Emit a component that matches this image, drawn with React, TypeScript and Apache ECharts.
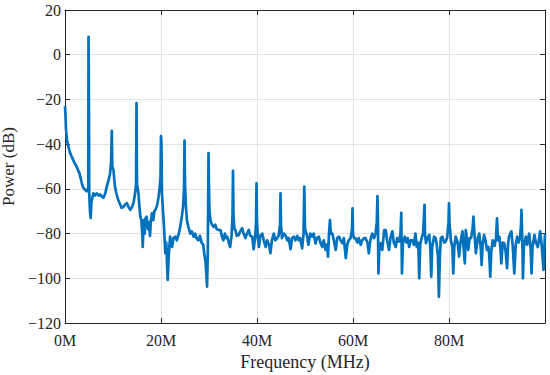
import React, { useEffect, useRef } from "react";
import * as echarts from "echarts";

const freqMHz: number[] = [
  0.0, 0.1, 0.2, 0.4, 0.7, 1.0, 1.4, 1.9, 2.4, 2.7, 3.0, 3.3, 3.5, 3.8, 4.2, 4.5, 4.75, 4.85, 4.9, 4.95,
  5.05, 5.2, 5.35, 5.5, 5.9, 6.2, 6.6, 7.0, 7.3, 7.7, 8.0, 8.4, 8.7, 9.1, 9.4, 9.6, 9.75, 9.85, 10.1, 10.4,
  10.7, 11.1, 11.5, 11.8, 12.2, 12.5, 12.9, 13.2, 13.6, 14.0, 14.3, 14.6, 14.8, 14.9, 15.0, 15.3, 15.5, 15.7, 15.9, 16.1,
  16.2, 16.4, 16.6, 16.8, 17.0, 17.3, 17.5, 17.7, 17.9, 18.1, 18.4, 18.6, 18.8, 19.1, 19.3, 19.5, 19.7, 19.9, 20.0, 20.1,
  20.2, 20.4, 20.6, 20.9, 21.1, 21.3, 21.4, 21.6, 21.9, 22.1, 22.3, 22.6, 23.0, 23.3, 23.7, 24.0, 24.3, 24.6, 24.8, 24.9,
  25.0, 25.2, 25.4, 25.7, 26.1, 26.4, 26.8, 27.1, 27.4, 27.8, 28.1, 28.5, 28.8, 29.0, 29.3, 29.6, 29.75, 29.85, 29.9, 30.0,
  30.1, 30.3, 30.6, 31.0, 31.3, 31.6, 32.0, 32.4, 32.7, 33.0, 33.3, 33.6, 33.8, 34.1, 34.4, 34.7, 34.9, 35.0, 35.1, 35.3,
  35.5, 35.8, 36.2, 36.5, 36.9, 37.2, 37.6, 37.9, 38.3, 38.6, 39.0, 39.3, 39.6, 39.8, 39.9, 40.0, 40.2, 40.4, 40.7, 41.1,
  41.4, 41.8, 42.1, 42.5, 42.8, 43.1, 43.5, 43.8, 44.2, 44.5, 44.8, 44.9, 45.0, 45.2, 45.6, 46.0, 46.3, 46.6, 47.0, 47.3,
  47.7, 48.0, 48.4, 48.7, 49.0, 49.4, 49.7, 49.85, 50.0, 50.3, 50.5, 50.7, 51.1, 51.5, 51.8, 52.2, 52.5, 52.9, 53.2, 53.6,
  53.9, 54.3, 54.6, 54.8, 55.0, 55.2, 55.4, 55.7, 56.0, 56.4, 56.7, 57.1, 57.4, 57.8, 58.1, 58.5, 58.8, 59.1, 59.5, 59.8,
  59.9, 60.0, 60.2, 60.5, 60.9, 61.2, 61.6, 61.9, 62.3, 62.6, 63.0, 63.3, 63.6, 64.0, 64.4, 64.7, 64.95, 65.1, 65.2, 65.3,
  65.5, 65.8, 66.1, 66.5, 66.8, 67.1, 67.5, 67.8, 68.2, 68.5, 68.9, 69.2, 69.6, 69.9, 70.05, 70.2, 70.4, 70.8, 71.1, 71.4,
  71.7, 72.0, 72.4, 72.7, 73.0, 73.3, 73.6, 73.8, 74.0, 74.3, 74.6, 74.9, 75.0, 75.2, 75.5, 75.9, 76.1, 76.3, 76.5, 76.9,
  77.2, 77.4, 77.7, 77.9, 78.1, 78.3, 78.6, 79.0, 79.3, 79.6, 79.9, 80.0, 80.1, 80.4, 80.7, 80.9, 81.1, 81.4, 81.8, 82.1,
  82.4, 82.8, 83.0, 83.3, 83.5, 83.8, 84.0, 84.3, 84.6, 84.9, 85.1, 85.3, 85.6, 86.0, 86.3, 86.6, 86.8, 87.0, 87.3, 87.6,
  87.9, 88.2, 88.4, 88.6, 88.8, 89.1, 89.5, 89.8, 90.0, 90.2, 90.5, 90.7, 90.9, 91.2, 91.5, 91.8, 92.1, 92.3, 92.5, 93.0,
  93.3, 93.6, 93.9, 94.2, 94.5, 94.8, 95.0, 95.1, 95.3, 95.4, 95.6, 96.0, 96.3, 96.7, 97.0, 97.2, 97.4, 97.8, 98.1, 98.5,
  98.8, 99.0, 99.3, 99.7, 99.9, 100.0,
];

const powerDb: number[] = [
  -23, -27, -33, -38, -41, -43.5, -45.6, -48, -50, -51.5, -53, -55.5, -57.4, -59.5, -60.5, -61, -60, -61, 8, -5,
  -62, -70, -73, -66, -62, -63, -62, -63, -62.5, -63.5, -64, -62, -59, -56, -53, -48, -34, -50, -51.6, -59,
  -62, -65, -67, -68.5, -68, -67, -66.4, -68, -69.4, -68, -66, -62, -58, -21.6, -58, -62, -68, -72.4, -74, -80,
  -86, -74, -80, -73, -72.5, -78, -75, -81, -74, -71, -74, -70, -69.5, -68, -66, -63.5, -60, -55, -36.4, -40,
  -62, -69.4, -76, -88.8, -84, -96, -100.7, -90, -81.4, -84, -86, -82, -81.4, -83, -80, -77, -73, -68, -60, -38.4,
  -58, -68, -74, -77, -80, -79, -81.4, -80, -82, -83, -81, -84.3, -85, -88.8, -93, -103.7, -88, -60, -44, -60,
  -70, -74, -76, -77, -76, -78, -78.4, -78.4, -81.4, -83, -80, -82, -81.4, -84, -86, -81, -72, -51.9, -72, -78,
  -78.4, -81, -80.6, -79, -77.6, -80, -82, -80, -78.4, -81, -81.4, -87, -82, -75, -57.5, -75, -82, -86, -81, -80,
  -83, -86, -83, -85, -88.8, -83, -80, -83, -82, -81, -76, -62, -76, -82, -80, -81, -83, -82, -87, -82,
  -81.4, -83, -81, -83, -82, -86.6, -80, -59, -78, -80, -82, -85, -80, -81.4, -80, -84.4, -82, -81.4, -84, -86,
  -83, -87.3, -85, -90.3, -80, -74, -80, -80, -83, -87.3, -82, -81.4, -83, -84.3, -82, -91, -85, -83, -82, -78,
  -68.7, -80, -82, -82, -84, -82, -85, -83, -82, -82, -84, -88.8, -83, -80, -82, -80, -75, -63.2, -75, -97.8,
  -86, -84.3, -87.3, -78.4, -78.4, -83, -87.3, -82, -79, -84, -86, -82, -83.6, -80, -70.7, -97.8, -84, -81.4, -84, -82,
  -86, -83, -83, -85, -80, -86, -84, -100, -85, -82, -80, -67.2, -80, -84.3, -82, -80.6, -86, -99.3, -86, -81.4,
  -82, -84.3, -90, -108.2, -90, -82, -81.4, -84, -83.6, -82, -75, -66.5, -75, -83, -86, -97.8, -86, -81.4, -84, -90.3,
  -84, -79, -85, -93.3, -78.4, -84, -87.3, -82, -82, -78, -72.4, -80, -88.8, -82, -80, -86, -94, -85, -80.6, -83,
  -87.3, -86, -90, -99.3, -88, -83, -85.5, -82, -73.2, -83, -81.4, -86, -93.3, -84, -84.3, -88, -95.5, -85, -81.4, -79,
  -86, -97.8, -85, -81.4, -84, -82, -76, -69.4, -85, -100, -86, -81.4, -85, -80, -86, -97.8, -86, -80.6, -84, -86,
  -82, -79, -85, -96.2, -85, -80,
];

const xTicks: number[] = [0, 20, 40, 60, 80];
const yTicks: number[] = [-120, -100, -80, -60, -40, -20, 0, 20];

const FONT = "'Liberation Serif', 'Times New Roman', serif";
const AX = "#262626";

export default function App() {
  const ref = useRef<HTMLDivElement>(null);
  useEffect(() => {
    if (!ref.current) return;
    const chart = echarts.init(ref.current, undefined, { renderer: "svg" });
    const data = freqMHz.map((f, i) => [f, powerDb[i]]);
    const common = {
      axisLine: { show: true, onZero: false, lineStyle: { color: AX, width: 1 } },
      axisTick: { show: true, inside: true, length: 5, lineStyle: { color: AX } },
    };
    chart.setOption({
      animation: false,
      backgroundColor: "#ffffff",
      grid: {
        left: 65,
        right: 5,
        top: 10,
        bottom: 52,
        containLabel: false,
        outerBoundsMode: "none",
      },
      xAxis: [
        {
          type: "value",
          min: 0,
          max: 100,
          interval: 20,
          position: "bottom",
          ...common,
          axisLabel: {
            color: AX,
            fontFamily: FONT,
            fontSize: 16,
            margin: 9,
            formatter: (v: number) => (xTicks.includes(v) ? `${v}M` : ""),
          },
          splitLine: { show: true, lineStyle: { color: "#e3e3e3", width: 1 } },
          name: "Frequency (MHz)",
          nameLocation: "middle",
          nameGap: 29,
          nameTextStyle: { color: AX, fontFamily: FONT, fontSize: 18 },
        },
        {
          type: "value",
          min: 0,
          max: 100,
          interval: 20,
          position: "top",
          ...common,
          axisLabel: { show: false },
          splitLine: { show: false },
        },
      ],
      yAxis: [
        {
          type: "value",
          min: -120,
          max: 20,
          interval: 20,
          position: "left",
          ...common,
          axisLabel: {
            color: AX,
            fontFamily: FONT,
            fontSize: 16,
            margin: 4,
            formatter: (v: number) => (yTicks.includes(v) ? (v < 0 ? `\u2212${-v}` : `${v}`) : ""),
          },
          splitLine: { show: true, lineStyle: { color: "#e3e3e3", width: 1 } },
          name: "Power (dB)",
          nameLocation: "middle",
          nameGap: 45,
          nameTextStyle: { color: AX, fontFamily: FONT, fontSize: 17 },
        },
        {
          type: "value",
          min: -120,
          max: 20,
          interval: 20,
          position: "right",
          ...common,
          axisLabel: { show: false },
          splitLine: { show: false },
        },
      ],
      series: [
        {
          type: "line",
          data,
          xAxisIndex: 0,
          yAxisIndex: 0,
          showSymbol: false,
          symbol: "none",
          clip: true,
          lineStyle: { color: "#0072BD", width: 2.7, join: "round" },
        },
      ],
    });
    return () => chart.dispose();
  }, []);
  return (
    <div
      ref={ref}
      style={{ position: "absolute", left: 0, top: 0, width: 550, height: 375 }}
    />
  );
}
